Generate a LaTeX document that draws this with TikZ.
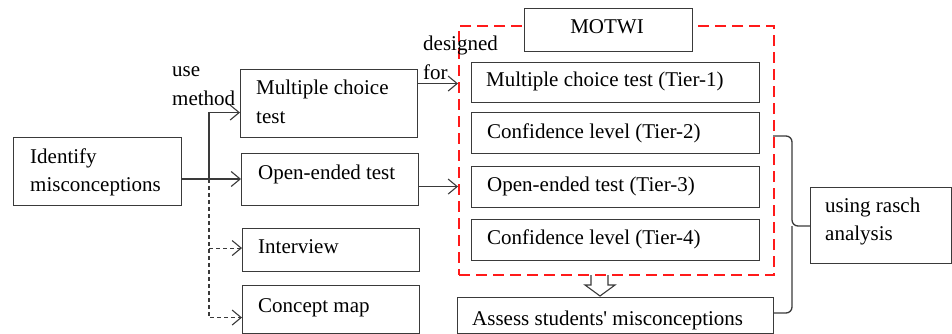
\documentclass[tikz,border=0pt]{standalone}
\usepackage{fontspec}
\setmainfont{Liberation Serif}
\newfontfamily\tms{Liberation Serif}
\usetikzlibrary{arrows.meta,calc}
\definecolor{ln}{HTML}{3A3A3A}
\definecolor{rd}{HTML}{FF1A1A}
\newcommand{\twoline}[2]{\begin{tabular}[t]{@{}l@{}}#1\\#2\end{tabular}}
\begin{document}
\begin{tikzpicture}[x=1pt,y=-1pt,
  every node/.style={font=\tms\fontsize{21}{28.5}\selectfont},
  box/.style={draw=ln, line width=1.1pt, inner sep=0pt, anchor=north west, fill=white},
  txt/.style={inner sep=0pt, anchor=base west, text=black},
  conn/.style={draw=ln, line width=1.1pt, -{Straight Barb[length=9pt,width=15pt,line width=1.1pt]}},
  dconn/.style={conn, dash pattern=on 4pt off 3pt},
  redbox/.style={draw=rd, line width=2.4pt, dash pattern=on 11pt off 6pt, inner sep=0pt, anchor=north west},
  bracelines/.style={draw=ln, line width=1.3pt, rounded corners=6pt}
]
\useasboundingbox (0,0) rectangle (952,334);

% hollow arrow (drawn first, red line over it)
\draw[draw=ln, line width=1.1pt, fill=white] (591,275) -- (591,285) -- (585,285) -- (600,296) -- (615,285) -- (608,285) -- (608,275);

% red dashed frame
\node[redbox, minimum width=315pt, minimum height=249pt] (red) at (458,25) {};

% boxes
\node[box, minimum width=168pt, minimum height=68pt] (ident) at (13,137) {};
\node[box, minimum width=177pt, minimum height=68pt] (mc) at (240,69) {};
\node[box, minimum width=177pt, minimum height=52pt] (oe) at (241,153) {};
\node[box, minimum width=177pt, minimum height=43pt] (iv) at (242,228) {};
\node[box, minimum width=177pt, minimum height=48pt] (cm) at (242,285) {};
\node[box, minimum width=168pt, minimum height=43pt] (motwi) at (524,8) {};
\node[box, minimum width=288pt, minimum height=40pt] (t1) at (471,62) {};
\node[box, minimum width=288pt, minimum height=41pt] (t2) at (471,112) {};
\node[box, minimum width=288pt, minimum height=41pt] (t3) at (471,166) {};
\node[box, minimum width=288pt, minimum height=41pt] (t4) at (471,219) {};
\node[box, minimum width=316pt, minimum height=36pt] (assess) at (457,297) {};
\node[box, minimum width=141pt, minimum height=76pt] (rasch) at (810,187) {};

% texts
\node[txt] (identt) at (30,163) {\twoline{Identify}{misconceptions}};
\node[txt] (mct) at (256,95) {\twoline{Multiple choice}{test}};
\node[txt] (oet) at (258,179) {Open-ended test};
\node[txt] (ivt) at (258,253) {Interview};
\node[txt] (cmt) at (258,312) {Concept map};
\node[txt, anchor=base] (motwit) at (607,34) {MOTWI};
\node[txt] (t1t) at (486,87) {Multiple choice test (Tier-1)};
\node[txt] (t2t) at (487,138) {Confidence level (Tier-2)};
\node[txt] (t3t) at (487,191) {Open-ended test (Tier-3)};
\node[txt] (t4t) at (487,244) {Confidence level (Tier-4)};
\node[txt] (assesst) at (472,325) {Assess students\textquotesingle\ misconceptions};
\node[txt] (rascht) at (825,212) {\twoline{using rasch}{analysis}};
\node[txt] (uset) at (172,77) {\twoline{use}{method}};
\node[txt] (dest) at (423,51) {\twoline{designed}{for}};

% connectors
\coordinate (j) at (209,179);
\draw[draw=ln, line width=1.1pt] (ident.east |- j) -- (j);
\draw[conn] (j) -- (j -| oe.west);
\draw[conn] (j) |- ($(mc.west)+(0,9)$);
\draw[dconn] (j) |- ($(cm.west)+(0,8)$);
\draw[dconn] ($(j |- iv.west)+(0,-2)$) -- ($(iv.west)+(0,-2)$);
\draw[conn] ($(mc.east)+(0,-20)$) coordinate (a1) -- (a1 -| red.west);
\draw[conn] ($(oe.east)+(0,7)$) coordinate (a2) -- (a2 -| red.west);

% brace to rasch
\coordinate (bt) at (773,136);
\coordinate (bb) at (773,313);
\coordinate (bm) at (792,226);
\draw[bracelines] (bt) -| (bm) -- (bm -| rasch.west);
\draw[bracelines] (bb) -| (bm);
\end{tikzpicture}
\end{document}
